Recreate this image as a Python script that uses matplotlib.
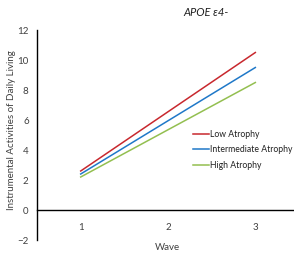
import matplotlib
matplotlib.use('Agg')
import matplotlib.pyplot as plt

# data
waves = [1, 2, 3]
low_atrophy = [2.6, 6.55, 10.5]
intermediate_atrophy = [2.4, 5.95, 9.5]
high_atrophy = [2.2, 5.35, 8.5]
y_ticks = [-2, 0, 2, 4, 6, 8, 10, 12]

plt.rcParams['font.family'] = ['Lato', 'DejaVu Sans']

fig = plt.figure(figsize=(2.94, 2.56), dpi=100)
ax = fig.add_axes([0.126, 0.0625, 0.891, 0.8203])

ax.plot(waves, low_atrophy, color='#C8282E', lw=1.1, label='Low Atrophy')
ax.plot(waves, intermediate_atrophy, color='#1F78C8', lw=1.1, label='Intermediate Atrophy')
ax.plot(waves, high_atrophy, color='#93BF50', lw=1.1, label='High Atrophy')

ax.set_xlim(0.5, 3.5)
ax.set_ylim(-2, 12)
ax.set_xticks(waves)
ax.set_yticks(y_ticks)
ax.tick_params(length=0, labelsize=7, colors='#404040', pad=6)
ax.tick_params(axis='x', pad=9)

ax.spines['top'].set_visible(False)
ax.spines['right'].set_visible(False)
ax.spines['bottom'].set_position(('data', 0))
ax.spines['left'].set_linewidth(1.0)
ax.spines['bottom'].set_linewidth(1.0)

fig.text(0.70, 0.953, 'APOE ε4-', style='italic', fontsize=8, ha='center', va='center',
         color='#202020', family=['Lato', 'DejaVu Sans'])
fig.text(0.038, 0.49, 'Instrumental Activities of Daily Living', rotation=90,
         fontsize=7, ha='center', va='center', color='#404040')
fig.text(0.571, 0.035, 'Wave', fontsize=7, ha='center', va='center', color='#404040')

# slightly smaller than the ticks so the long label fits inside the figure
leg = ax.legend(loc='center left', bbox_to_anchor=(0.595, 0.4286), frameon=False,
                prop={'size': 6.2}, handlelength=1.9, handletextpad=0.1,
                labelspacing=0.75, borderaxespad=0, borderpad=0)
for t in leg.get_texts():
    t.set_color('#202020')

fig.savefig('out.png', dpi=100)
